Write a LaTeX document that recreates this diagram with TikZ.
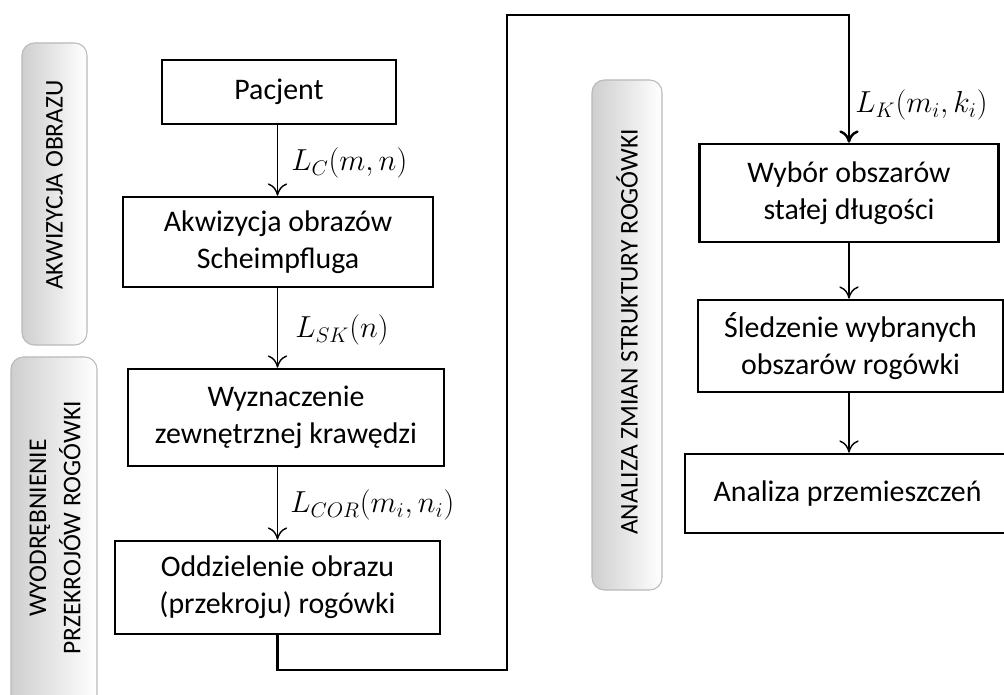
\documentclass[tikz,border=0pt]{standalone}
\usepackage{fontspec}
\setmainfont{Carlito}
\usetikzlibrary{arrows.meta}

\tikzset{
  krok/.style={draw, line width=1.5pt, align=center, inner sep=0pt, font=\fontsize{17}{21}\selectfont},
  etap/.style={draw=gray!55, line width=0.6pt, rounded corners=7pt, left color=gray!38, right color=white},
  etykieta/.style={rotate=90, align=center, font=\fontsize{14.5}{19.5}\selectfont},
  strz/.style={-{To[length=7pt,width=11pt]}, line width=0.8pt},
  petla/.style={-{To[length=7pt,width=11pt,line width=1.4pt]}, line width=1.6pt},
  mat/.style={anchor=west, inner sep=0pt, font=\fontsize{17}{21}\selectfont}
}

\begin{document}
\begin{tikzpicture}[x=0.02cm, y=-0.02cm]
\useasboundingbox (0,0) rectangle (1004,695);

% panele etapow
\draw[etap] (22,43) rectangle (87,345);
\draw[etap] (11,357) rectangle (97,720);
\draw[etap] (592,80) rectangle (662,590);
\node[etykieta] (e1) at (54.5,185) {AKWIZYCJA OBRAZU};
\node[etykieta] (e2) at (55,528) {WYODRĘBNIENIE\\PRZEKROJÓW ROGÓWKI};
\node[etykieta] (e3) at (627,332) {ANALIZA ZMIAN STRUKTURY ROGÓWKI};

% lewa kolumna
\node[krok, minimum width=4.68cm, minimum height=1.28cm] (pac) at (279,92) {Pacjent};
\node[krok, minimum width=6.2cm, minimum height=1.8cm] (akw) at (278,242) {Akwizycja obrazów\\Scheimpfluga};
\node[krok, minimum width=6.32cm, minimum height=1.94cm] (wyz) at (286,417.5) {Wyznaczenie\\zewnętrznej krawędzi};
\node[krok, minimum width=6.5cm, minimum height=1.86cm] (odd) at (277.5,587.5) {Oddzielenie obrazu\\(przekroju) rogówki};

% prawa kolumna
\node[krok, minimum width=5.98cm, minimum height=1.96cm] (wyb) at (849,193) {Wybór obszarów\\stałej długości};
\node[krok, minimum width=6.1cm, minimum height=1.84cm] (sle) at (850.5,346) {Śledzenie wybranych\\obszarów rogówki};
\node[krok, minimum width=6.5cm, minimum height=1.58cm] (ana) at (847.5,493.5) {Analiza przemieszczeń};

% strzalki
\draw[strz] (pac.south -| odd.north) -- (akw.north -| odd.north);
\draw[strz] (akw.south -| odd.north) -- (wyz.north -| odd.north);
\draw[strz] (wyz.south -| odd.north) -- (odd.north);
\draw[strz] (wyb.south) -- (wyb.south |- sle.north);
\draw[strz] (sle.south -| wyb.south) -- (ana.north -| wyb.south);

\coordinate (lo) at (507,670);
\coordinate (hi) at (507,15);
\draw[petla] (odd.south) |- (lo) -- (hi) -| (wyb.north);

% oznaczenia
\node[mat] (lc) at (291,163) {$L_C(m,n)$};
\node[mat] (lsk) at (295,330) {$L_{SK}(n)$};
\node[mat] (lcor) at (290,505) {$L_{COR}(m_i,n_i)$};
\node[mat] (lk) at (855,105) {$L_K(m_i,k_i)$};
\end{tikzpicture}
\end{document}
